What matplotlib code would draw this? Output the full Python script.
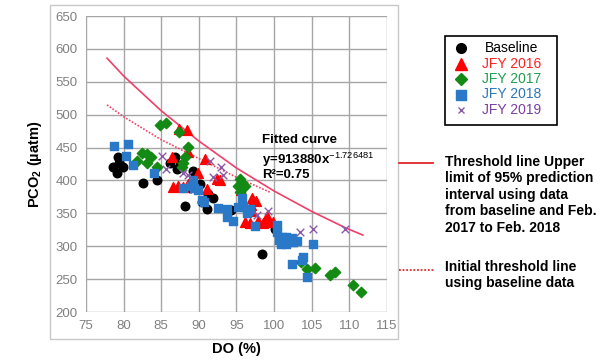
# coding=utf-8
import matplotlib
matplotlib.use('Agg')
import matplotlib.pyplot as plt
from matplotlib.lines import Line2D
from matplotlib.patches import Rectangle

plt.rcParams['font.family'] = ['Liberation Sans', 'DejaVu Sans']
plt.rcParams['mathtext.fontset'] = 'custom'
plt.rcParams['mathtext.rm'] = 'Liberation Sans'
plt.rcParams['mathtext.bf'] = 'Liberation Sans:bold'

# 基线数据
base_do = [78.6, 79.3, 79.4, 79.1, 79.9, 82.6, 84.4, 86.2, 86.8, 87.1, 87.5,
           89.2, 88.8, 90.2, 88.2, 90.4, 91.1, 91.2, 91.9, 94.3, 100.1, 98.4]
base_pco2 = [421, 435, 427, 412, 420, 396, 400, 427, 435, 417, 424,
             414, 389, 395, 361, 367, 356, 379, 374, 355, 326, 288]

jfy16_do = [86.4, 87.3, 88.4, 88.6, 90.8, 89.9, 86.6, 87.2, 87.9, 88.6, 89.3,
            91.1, 92.4, 92.8, 95.6, 97.1, 97.6, 96.9, 97.1, 96.2, 96.8, 97.9,
            98.5, 99.2, 99.8, 99.1]
jfy16_pco2 = [436, 478, 477, 443, 432, 412, 390, 391, 390, 395, 394,
              387, 403, 400, 386, 374, 369, 363, 353, 337, 335, 338,
              336, 338, 337, 346]

jfy17_do = [84.8, 85.6, 87.3, 88.6, 81.8, 82.4, 83.1, 83.6, 83.1, 84.5,
            88.1, 87.9, 87.7, 95.5, 95.8, 95.2, 96.1, 95.5, 103.6, 104.4,
            105.5, 107.4, 108.1, 110.5, 111.6]
jfy17_pco2 = [484, 487, 474, 451, 429, 442, 441, 436, 426, 421,
              436, 427, 420, 402, 396, 391, 391, 383, 276, 265,
              267, 257, 261, 241, 231]

jfy18_do = [78.7, 80.6, 80.3, 81.3, 84.0, 87.9, 89.2, 88.9, 89.4, 89.9, 90.4,
            90.7, 92.6, 93.8, 93.8, 94.6, 95.2, 95.9, 95.7, 96.5, 96.8, 96.4,
            97.5, 100.4, 100.4, 100.6, 101.2, 101.6, 102.1, 102.5, 101.0, 102.4,
            103.1, 100.9, 101.6, 102.5, 105.2, 103.9, 103.7, 102.4, 104.4]
jfy18_pco2 = [452, 456, 438, 424, 411, 389, 401, 391, 388, 385, 371,
              367, 358, 356, 345, 338, 360, 359, 374, 354, 357, 350,
              331, 333, 321, 310, 307, 314, 310, 307, 314, 313,
              308, 304, 304, 306, 303, 283, 279, 273, 253]

jfy19_do = [85.1, 85.6, 87.9, 88.5, 91.5, 93.0, 93.2, 91.9, 97.7, 99.2,
            103.5, 105.2, 109.4]
jfy19_pco2 = [437, 417, 412, 409, 429, 420, 409, 405, 347, 353,
              322, 326, 326]

# 阈值线（从图上读取的点）
upper_do = [77.8, 80, 85, 90, 95, 100, 105, 109.5, 111.8]
upper_pco2 = [586, 559, 506, 460, 419, 384, 353, 328, 317]
init_do = [77.8, 80, 85, 89.2, 95, 99.5]
init_pco2 = [515, 497, 462, 438, 405, 382]

x_ticks = [75, 80, 85, 90, 95, 100, 105, 110, 115]
y_ticks = [200, 250, 300, 350, 400, 450, 500, 550, 600, 650]

labels = ['Baseline', 'JFY 2016', 'JFY 2017', 'JFY 2018', 'JFY 2019']
markers = ['o', '^', 'D', 's', 'x']
mark_colors = ['black', '#ff0000', '#138a13', '#2a78c8', '#8a5aa8']
text_colors = ['black', '#ff2020', '#20a050', '#2e75b6', '#7a3fa0']
mark_sizes = [7, 8, 6, 6.5, 5]

fig = plt.figure(figsize=(6.08, 3.6), dpi=100)
W, H = 608.0, 360.0
fig.patches.append(Rectangle((50 / W, 1 - 339 / H), 348 / W, 334 / H,
                             transform=fig.transFigure, fill=False,
                             edgecolor='#c8c8c8', linewidth=1))
ax = fig.add_axes([0.1414, 0.1333, 0.495, 0.822])

ax.plot(upper_do, upper_pco2, color='#f04068', linewidth=1.2, zorder=2)
ax.plot(init_do, init_pco2, color='#f04068', linewidth=1.2,
        linestyle=(0, (1, 1)), zorder=2)

ax.scatter(base_do, base_pco2, marker='o', s=38, color='black', zorder=3)
ax.scatter(jfy16_do, jfy16_pco2, marker='^', s=50, color='#ff0000', zorder=3)
ax.scatter(jfy17_do, jfy17_pco2, marker='D', s=28, color='#138a13', zorder=3)
ax.scatter(jfy18_do, jfy18_pco2, marker='s', s=32, color='#2a78c8', zorder=3)
ax.scatter(jfy19_do, jfy19_pco2, marker='x', s=30, color='#8a5aa8',
           linewidths=1, zorder=3)

ax.set_xlim(75, 115)
ax.set_ylim(200, 650)
ax.set_xticks(x_ticks)
ax.set_yticks(y_ticks)
ax.grid(True, color='#a6a6a6', linewidth=1)
ax.set_axisbelow(True)
ax.tick_params(length=0, labelsize=9.5, labelcolor='#808080', pad=6)
for s in ax.spines.values():
    s.set_visible(False)

ax.set_xlabel('DO (%)', fontsize=10.5, fontweight='bold', labelpad=7)
ax.set_ylabel(r'PCO$_{\mathbf{2}}$ (µatm)', fontsize=10.5, fontweight='bold', labelpad=8)

ax.text(98.4, 462, 'Fitted curve', fontsize=9.5, fontweight='bold', va='center')
ax.text(98.4, 432, r'y=913880x$^{-1.726481}$', fontsize=9.5, fontweight='bold', va='center')
ax.text(98.4, 408, 'R²=0.75', fontsize=9.5, fontweight='bold', va='center')

# 手动绘制图例
fig.patches.append(Rectangle((445 / W, 1 - 125 / H), 112 / W, 89 / H,
                             transform=fig.transFigure, fill=False,
                             edgecolor='black', linewidth=1.2))
for i, lab in enumerate(labels):
    yy = 1 - (48 + 15.5 * i) / H
    fig.add_artist(Line2D([461 / W], [yy], marker=markers[i], linestyle='',
                          color=mark_colors[i], markersize=mark_sizes[i]))
    fig.text(512 / W, yy, lab, color=text_colors[i], fontsize=10,
             ha='center', va='center')

fig.add_artist(Line2D([399 / W, 433 / W], [1 - 163 / H, 1 - 163 / H],
                      color='#e02828', linewidth=1.3))
fig.add_artist(Line2D([399 / W, 434 / W], [1 - 270 / H, 1 - 270 / H],
                      color='#e02828', linewidth=1.3, linestyle=(0, (1, 1))))
fig.text(445 / W, 1 - 155 / H,
         'Threshold line Upper\nlimit of 95% prediction\ninterval using data\n'
         'from baseline and Feb.\n2017 to Feb. 2018',
         fontsize=10, fontweight='bold', va='top', ha='left', linespacing=1.22)
fig.text(445 / W, 1 - 260 / H, 'Initial threshold line\nusing baseline data',
         fontsize=10, fontweight='bold', va='top', ha='left', linespacing=1.22)

fig.savefig('out.png', dpi=100)
